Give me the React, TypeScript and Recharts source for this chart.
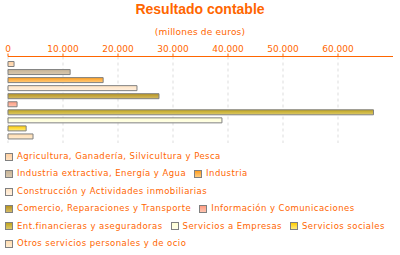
import React from 'react';
import { BarChart, Bar, XAxis, YAxis, CartesianGrid, Cell } from 'recharts';

const categories = [
  'Agricultura, Ganadería, Silvicultura y Pesca',
  'Industria extractiva, Energía y Agua',
  'Industria',
  'Construcción y Actividades inmobiliarias',
  'Comercio, Reparaciones y Transporte',
  'Información y Comunicaciones',
  'Ent.financieras y aseguradoras',
  'Servicios a Empresas',
  'Servicios sociales',
  'Otros servicios personales y de ocio',
];
const values = [1100, 11300, 17300, 23450, 27450, 1650, 66450, 38900, 3300, 4550];
const topColors = ['#FFD0A0', '#C8B496', '#FF9E1E', '#FFE4C4', '#B8941C', '#FF9C82', '#C0A41C', '#FFFFD4', '#FFCC00', '#FFDCB0'];
const bottomColors = ['#FFE0C0', '#D8C8B0', '#FFCC80', '#FFF0E0', '#D4BC68', '#FFC4B0', '#DCCA6A', '#FFFFE8', '#FFEC80', '#FFECD0'];
const ticks = [0, 10000, 20000, 30000, 40000, 50000, 60000];
const DOMAIN_MAX = 70000;

const data = categories.map((name, i) => ({ name, value: values[i] }));
const ORANGE = '#FF6600';
const FONT = '"DejaVu Sans", Verdana, sans-serif';

const fmt = (v: number) => String(v).replace(/\B(?=(\d{3})+(?!\d))/g, '.');

export default function App() {
  return (
    <div style={{ position: 'absolute', left: 0, top: 0, width: 400, height: 255, fontFamily: FONT, background: '#fff' }}>
      <div style={{ position: 'absolute', top: 0, left: 0, width: 400, textAlign: 'center', color: ORANGE, fontWeight: 'bold', fontSize: 14, lineHeight: '18px', fontFamily: '"Liberation Sans", Arial, sans-serif' }}>
        Resultado contable
      </div>
      <div style={{ position: 'absolute', top: 25, left: 0, width: 400, textAlign: 'center', color: ORANGE, fontSize: 9, lineHeight: '14px', letterSpacing: 0.2 }}>
        (millones de euros)
      </div>
      <div style={{ position: 'absolute', top: 0, left: 0 }}>
        <BarChart width={400} height={146} data={data} layout="vertical" margin={{ top: 0, right: 7, bottom: 3, left: 8 }} barSize={5}>
          <defs>
            {categories.map((c, i) => (
              <linearGradient key={c} id={`g${i}`} x1="0" y1="0" x2="0" y2="1">
                <stop offset="0%" stopColor={topColors[i]} />
                <stop offset="100%" stopColor={bottomColors[i]} />
              </linearGradient>
            ))}
          </defs>
          <CartesianGrid
            horizontal={false}
            stroke="#DDDDDD"
            strokeDasharray="3 3"
            verticalCoordinatesGenerator={(p: any) => {
              const off = p.offset || { left: 8, width: 385 };
              return ticks.map((t) => off.left + (t / DOMAIN_MAX) * off.width);
            }}
          />
          <XAxis
            type="number"
            orientation="top"
            domain={[0, DOMAIN_MAX]}
            ticks={ticks}
            tickFormatter={fmt}
            height={56.5}
            axisLine={{ stroke: ORANGE }}
            tickLine={{ stroke: ORANGE }}
            tickSize={3}
            tick={{ fill: ORANGE, fontSize: 9, fontFamily: FONT }}
            interval={0}
          />
          <YAxis type="category" dataKey="name" hide padding={{ top: 3, bottom: 3 }} />
          <Bar dataKey="value" stroke="#808080" strokeWidth={1} isAnimationActive={false}>
            {data.map((d, i) => (
              <Cell key={d.name} fill={`url(#g${i})`} />
            ))}
          </Bar>
        </BarChart>
      </div>
      <div style={{ position: 'absolute', top: 148, left: 5, width: 395, display: 'flex', flexWrap: 'wrap', color: ORANGE, fontSize: 8.5, lineHeight: '17.4px', letterSpacing: 0.45 }}>
        {categories.map((c, i) => (
          <div key={c} style={{ display: 'flex', alignItems: 'center', marginRight: 8, whiteSpace: 'nowrap' }}>
            <span style={{ display: 'inline-block', width: 6, height: 6, border: '1px solid #808080', background: `linear-gradient(${topColors[i]}, ${bottomColors[i]})`, marginRight: 4 }} />
            <span>{c}</span>
          </div>
        ))}
      </div>
    </div>
  );
}
